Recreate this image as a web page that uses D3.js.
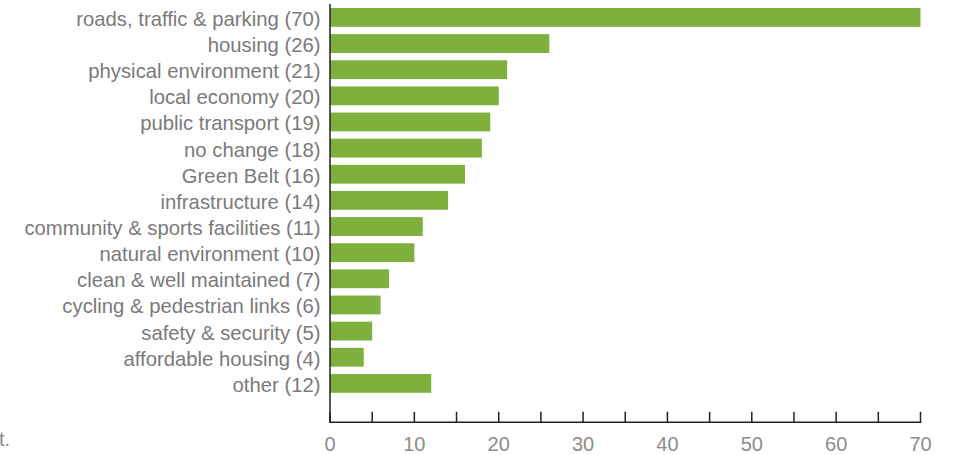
<!DOCTYPE html>
<html><head><meta charset="utf-8">
<script src="https://cdn.jsdelivr.net/npm/d3@7"></script>
<style>body{margin:0;background:#fff;} svg{display:block;}</style>
</head><body>
<svg id="c" width="954" height="455"></svg>
<script>
const categories = ["roads, traffic & parking","housing","physical environment","local economy","public transport","no change","Green Belt","infrastructure","community & sports facilities","natural environment","clean & well maintained","cycling & pedestrian links","safety & security","affordable housing","other"];
const values = [70,26,21,20,19,18,16,14,11,10,7,6,5,4,12];
const majorTicks = [0,10,20,30,40,50,60,70];
const minorTicks = [5,15,25,35,45,55,65];

const svg = d3.select("#c");
const font = "'Liberation Sans', Arial, sans-serif";
const x = d3.scaleLinear().domain([0,70]).range([330,920.5]);
const y = d3.scaleBand().domain(categories).range([4.34,396.44]).paddingInner(0.28).paddingOuter(0.14);
const baseY = 422.3;

svg.selectAll("rect.bar").data(values).enter().append("rect")
  .attr("class","bar")
  .attr("x", x(0))
  .attr("y",(d,i)=>y(categories[i]))
  .attr("width", d=>x(d)-x(0))
  .attr("height", y.bandwidth())
  .attr("fill","#7eb03e");

svg.selectAll("text.lab").data(values).enter().append("text")
  .attr("class","lab")
  .attr("x", 320.5)
  .attr("y",(d,i)=>y(categories[i])+y.bandwidth()/2 + 8.5)
  .attr("text-anchor","end")
  .attr("font-family",font)
  .attr("font-size",20.3).attr("fill","#7a7a7a")
  .text((d,i)=>`${categories[i]} (${d})`);

// axes lines
svg.append("line").attr("x1",x(0)).attr("x2",x(0)).attr("y1",4).attr("y2",baseY)
  .attr("stroke","#222").attr("stroke-width",1.5);
svg.append("line").attr("x1",x(0)-0.75).attr("x2",x(70)+0.75).attr("y1",baseY).attr("y2",baseY)
  .attr("stroke","#222").attr("stroke-width",1.5);
svg.selectAll("line.tk").data(majorTicks.concat(minorTicks)).enter().append("line")
  .attr("class","tk")
  .attr("x1",d=>x(d)).attr("x2",d=>x(d))
  .attr("y1",baseY).attr("y2",baseY-10.5)
  .attr("stroke","#222").attr("stroke-width",1.5);
svg.selectAll("text.tl").data(majorTicks).enter().append("text")
  .attr("class","tl")
  .attr("x",d=>x(d)).attr("y",450.5)
  .attr("text-anchor","middle")
  .attr("font-family",font)
  .attr("font-size",20).attr("fill","#8c8c8c")
  .text(d=>d);

svg.append("text").attr("x",-1).attr("y",445.5)
  .attr("font-family",font)
  .attr("font-size",20).attr("fill","#8c8c8c").text("t.");
</script>
</body></html>
